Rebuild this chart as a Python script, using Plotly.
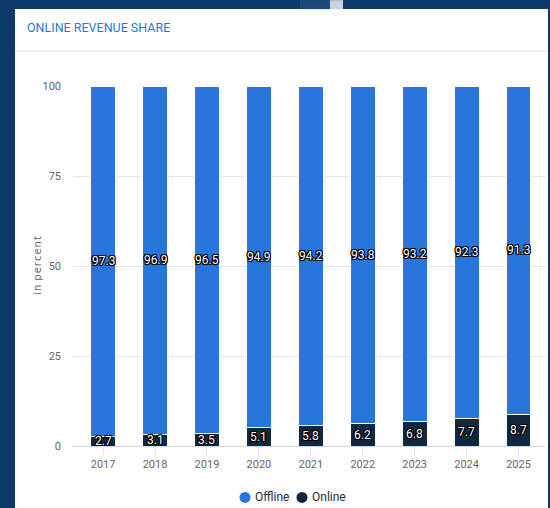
import plotly.graph_objects as go

years = ["2017", "2018", "2019", "2020", "2021", "2022", "2023", "2024", "2025"]
online = [2.7, 3.1, 3.5, 5.1, 5.8, 6.2, 6.8, 7.7, 8.7]
offline = [97.3, 96.9, 96.5, 94.9, 94.2, 93.8, 93.2, 92.3, 91.3]
y_ticks = [0, 25, 50, 75, 100]

OFFLINE_C = "#2875dc"
ONLINE_C = "#10283f"
NAVY = "#0c3b6a"
FONT = "Roboto, Arial, sans-serif"

# plot area in pixels
L, R, T, B = 73, 5, 86, 61.5
W, H = 550, 508
pw, ph = W - L - R, H - T - B

def px(x):
    return (x - L) / pw

def py(y):
    return (H - B - y) / ph

fig = go.Figure()

fig.add_trace(go.Bar(x=years, y=online, marker=dict(color=ONLINE_C, line=dict(color="#ffffff", width=1)),
                     name="Online", showlegend=False, hoverinfo="skip"))
fig.add_trace(go.Bar(x=years, y=offline, marker=dict(color=OFFLINE_C, line=dict(color="#ffffff", width=1)),
                     name="Offline", showlegend=False, hoverinfo="skip"))

outline = ("-1px -1px 0 #000, 1px -1px 0 #000, -1px 1px 0 #000, 1px 1px 0 #000, "
           "0 1px 0 #000, 0 -1px 0 #000, 1px 0 0 #000, -1px 0 0 #000")
annotations = []
for i, (on, off) in enumerate(zip(online, offline)):
    for val, base in [(on, 0.0), (off, on)]:
        annotations.append(dict(x=i, y=base + val / 2, xref="x", yref="y", text=f"{val}",
                                showarrow=False,
                                font=dict(family=FONT, size=12, color="#ffffff", shadow=outline)))

# card title
annotations.append(dict(x=px(25), y=py(27), xref="paper", yref="paper", xanchor="left", yanchor="middle",
                        text="ONLINE REVENUE SHARE", showarrow=False,
                        font=dict(family=FONT, size=12.5, color="#1f7ad6")))
# axis title
annotations.append(dict(x=px(38), y=py(266), xref="paper", yref="paper", xanchor="center", yanchor="middle",
                        text="i\u200an\u2009\u2009p\u200ae\u200ar\u200ac\u200ae\u200an\u200at", textangle=-90,
                        showarrow=False, font=dict(family="DejaVu Sans, sans-serif", size=10, color="#666666")))

shapes = [
    # white card
    dict(type="rect", xref="paper", yref="paper", x0=px(15), x1=px(548), y0=py(520), y1=py(9),
         fillcolor="#ffffff", line=dict(width=0), layer="below"),
    # header separator
    dict(type="line", xref="paper", yref="paper", x0=px(15), x1=px(548), y0=py(51), y1=py(51),
         line=dict(color="#eef0f6", width=2), layer="below"),
    # light streak at the top edge
    dict(type="rect", xref="paper", yref="paper", x0=px(330), x1=px(343), y0=py(9), y1=py(0),
         fillcolor="#c9d3e0", line=dict(width=0), layer="below"),
    dict(type="rect", xref="paper", yref="paper", x0=px(300), x1=px(330), y0=py(9), y1=py(0),
         fillcolor="#1d4a78", line=dict(width=0), layer="below"),
]

# legend: round swatch + label
legend_items = [("Offline", OFFLINE_C, 245), ("Online", ONLINE_C, 302)]
LEG_Y, RAD = 498, 5.5
for name, col, cx in legend_items:
    shapes.append(dict(type="circle", xref="paper", yref="paper",
                       x0=px(cx - RAD), x1=px(cx + RAD), y0=py(LEG_Y + RAD), y1=py(LEG_Y - RAD),
                       fillcolor=col, line=dict(width=0)))
    annotations.append(dict(x=px(cx + 8), y=py(LEG_Y), xref="paper", yref="paper",
                            xanchor="left", yanchor="middle", text=name, showarrow=False,
                            font=dict(family=FONT, size=12, color="#2a2a2a")))

fig.update_layout(
    width=W, height=H,
    margin=dict(l=L, r=R, t=T, b=B, pad=0, autoexpand=False),
    paper_bgcolor=NAVY,
    plot_bgcolor="rgba(0,0,0,0)",
    barmode="stack",
    bargap=0.52,
    font=dict(family=FONT, size=11, color="#666666"),
    showlegend=False,
    annotations=annotations,
    shapes=shapes,
    xaxis=dict(type="category", range=[-0.58, 8.51], showgrid=False, zeroline=False,
               showline=True, linecolor="#cdd7e6", linewidth=1,
               ticks="outside", ticklen=8, tickcolor="#dde4ee", tickwidth=1,
               tickfont=dict(family=FONT, size=11, color="#666666")),
    yaxis=dict(range=[0, 100], tickvals=y_ticks, showgrid=True, gridcolor="#e4e4e4", gridwidth=1,
               zeroline=False, showline=False, ticks="", ticklabelstandoff=11,
               tickfont=dict(family=FONT, size=11, color="#666666")),
)

fig.write_html("out.html")
